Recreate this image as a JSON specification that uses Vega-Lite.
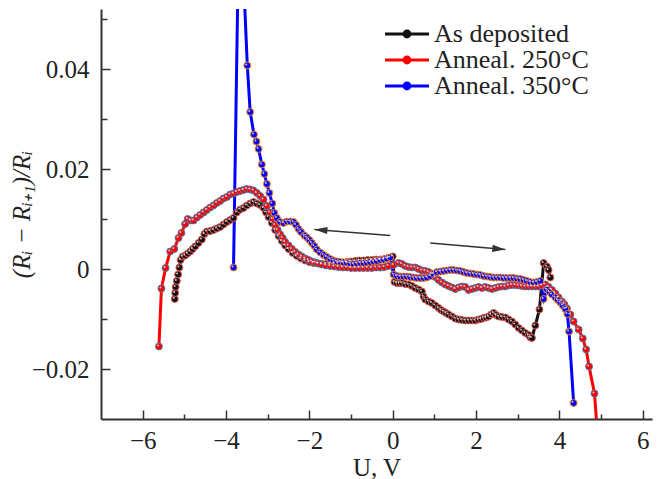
{
  "$schema": "https://vega.github.io/schema/vega-lite/v6.json",
  "width": 551,
  "height": 410,
  "autosize": "none",
  "padding": {"left": 101, "top": 9, "right": 12, "bottom": 60},
  "background": "white",
  "config": {"view": {"stroke": null}, "font": "Liberation Serif"},
  "datasets": {
    "curves": [
      {"sample":"As deposited","U":-5.23,"dR":-0.0060},
      {"sample":"As deposited","U":-5.22,"dR":-0.0048},
      {"sample":"As deposited","U":-5.21,"dR":-0.0036},
      {"sample":"As deposited","U":-5.18,"dR":-0.0024},
      {"sample":"As deposited","U":-5.15,"dR":-0.0011},
      {"sample":"As deposited","U":-5.12,"dR":0.0003},
      {"sample":"As deposited","U":-5.09,"dR":0.0018},
      {"sample":"As deposited","U":-5.04,"dR":0.0025},
      {"sample":"As deposited","U":-4.98,"dR":0.0027},
      {"sample":"As deposited","U":-4.92,"dR":0.0031},
      {"sample":"As deposited","U":-4.86,"dR":0.0035},
      {"sample":"As deposited","U":-4.80,"dR":0.0040},
      {"sample":"As deposited","U":-4.74,"dR":0.0045},
      {"sample":"As deposited","U":-4.66,"dR":0.0052},
      {"sample":"As deposited","U":-4.58,"dR":0.0059},
      {"sample":"As deposited","U":-4.52,"dR":0.0070},
      {"sample":"As deposited","U":-4.46,"dR":0.0075},
      {"sample":"As deposited","U":-4.38,"dR":0.0076},
      {"sample":"As deposited","U":-4.30,"dR":0.0078},
      {"sample":"As deposited","U":-4.22,"dR":0.0081},
      {"sample":"As deposited","U":-4.14,"dR":0.0084},
      {"sample":"As deposited","U":-4.06,"dR":0.0089},
      {"sample":"As deposited","U":-3.98,"dR":0.0094},
      {"sample":"As deposited","U":-3.90,"dR":0.0098},
      {"sample":"As deposited","U":-3.82,"dR":0.0102},
      {"sample":"As deposited","U":-3.74,"dR":0.0113},
      {"sample":"As deposited","U":-3.66,"dR":0.0119},
      {"sample":"As deposited","U":-3.58,"dR":0.0122},
      {"sample":"As deposited","U":-3.50,"dR":0.0127},
      {"sample":"As deposited","U":-3.42,"dR":0.0131},
      {"sample":"As deposited","U":-3.34,"dR":0.0134},
      {"sample":"As deposited","U":-3.26,"dR":0.0131},
      {"sample":"As deposited","U":-3.18,"dR":0.0128},
      {"sample":"As deposited","U":-3.10,"dR":0.0122},
      {"sample":"As deposited","U":-3.04,"dR":0.0113},
      {"sample":"As deposited","U":-2.98,"dR":0.0104},
      {"sample":"As deposited","U":-2.90,"dR":0.0092},
      {"sample":"As deposited","U":-2.82,"dR":0.0078},
      {"sample":"As deposited","U":-2.74,"dR":0.0066},
      {"sample":"As deposited","U":-2.66,"dR":0.0056},
      {"sample":"As deposited","U":-2.58,"dR":0.0047},
      {"sample":"As deposited","U":-2.50,"dR":0.0040},
      {"sample":"As deposited","U":-2.40,"dR":0.0032},
      {"sample":"As deposited","U":-2.30,"dR":0.0026},
      {"sample":"As deposited","U":-2.20,"dR":0.0021},
      {"sample":"As deposited","U":-2.10,"dR":0.0017},
      {"sample":"As deposited","U":-2.00,"dR":0.0014},
      {"sample":"As deposited","U":-1.90,"dR":0.0012},
      {"sample":"As deposited","U":-1.80,"dR":0.0011},
      {"sample":"As deposited","U":-1.70,"dR":0.0010},
      {"sample":"As deposited","U":-1.60,"dR":0.0010},
      {"sample":"As deposited","U":-1.50,"dR":0.0010},
      {"sample":"As deposited","U":-1.40,"dR":0.0011},
      {"sample":"As deposited","U":-1.30,"dR":0.0012},
      {"sample":"As deposited","U":-1.20,"dR":0.0013},
      {"sample":"As deposited","U":-1.10,"dR":0.0014},
      {"sample":"As deposited","U":-1.00,"dR":0.0015},
      {"sample":"As deposited","U":-0.90,"dR":0.0016},
      {"sample":"As deposited","U":-0.80,"dR":0.0017},
      {"sample":"As deposited","U":-0.70,"dR":0.0017},
      {"sample":"As deposited","U":-0.60,"dR":0.0018},
      {"sample":"As deposited","U":-0.50,"dR":0.0018},
      {"sample":"As deposited","U":-0.40,"dR":0.0019},
      {"sample":"As deposited","U":-0.30,"dR":0.0019},
      {"sample":"As deposited","U":-0.20,"dR":0.0020},
      {"sample":"As deposited","U":-0.10,"dR":0.0022},
      {"sample":"As deposited","U":0.00,"dR":0.0025},
      {"sample":"As deposited","U":0.04,"dR":-0.0026},
      {"sample":"As deposited","U":0.10,"dR":-0.0028},
      {"sample":"As deposited","U":0.16,"dR":-0.0028},
      {"sample":"As deposited","U":0.22,"dR":-0.0028},
      {"sample":"As deposited","U":0.30,"dR":-0.0030},
      {"sample":"As deposited","U":0.38,"dR":-0.0031},
      {"sample":"As deposited","U":0.46,"dR":-0.0034},
      {"sample":"As deposited","U":0.54,"dR":-0.0038},
      {"sample":"As deposited","U":0.62,"dR":-0.0041},
      {"sample":"As deposited","U":0.70,"dR":-0.0045},
      {"sample":"As deposited","U":0.74,"dR":-0.0055},
      {"sample":"As deposited","U":0.78,"dR":-0.0061},
      {"sample":"As deposited","U":0.86,"dR":-0.0065},
      {"sample":"As deposited","U":0.94,"dR":-0.0068},
      {"sample":"As deposited","U":1.02,"dR":-0.0073},
      {"sample":"As deposited","U":1.10,"dR":-0.0078},
      {"sample":"As deposited","U":1.16,"dR":-0.0082},
      {"sample":"As deposited","U":1.22,"dR":-0.0085},
      {"sample":"As deposited","U":1.28,"dR":-0.0088},
      {"sample":"As deposited","U":1.34,"dR":-0.0091},
      {"sample":"As deposited","U":1.42,"dR":-0.0095},
      {"sample":"As deposited","U":1.50,"dR":-0.0099},
      {"sample":"As deposited","U":1.58,"dR":-0.0101},
      {"sample":"As deposited","U":1.66,"dR":-0.0102},
      {"sample":"As deposited","U":1.74,"dR":-0.0103},
      {"sample":"As deposited","U":1.82,"dR":-0.0103},
      {"sample":"As deposited","U":1.90,"dR":-0.0103},
      {"sample":"As deposited","U":1.98,"dR":-0.0103},
      {"sample":"As deposited","U":2.06,"dR":-0.0101},
      {"sample":"As deposited","U":2.12,"dR":-0.0100},
      {"sample":"As deposited","U":2.18,"dR":-0.0098},
      {"sample":"As deposited","U":2.24,"dR":-0.0097},
      {"sample":"As deposited","U":2.30,"dR":-0.0095},
      {"sample":"As deposited","U":2.36,"dR":-0.0091},
      {"sample":"As deposited","U":2.42,"dR":-0.0088},
      {"sample":"As deposited","U":2.48,"dR":-0.0092},
      {"sample":"As deposited","U":2.54,"dR":-0.0095},
      {"sample":"As deposited","U":2.62,"dR":-0.0096},
      {"sample":"As deposited","U":2.70,"dR":-0.0097},
      {"sample":"As deposited","U":2.78,"dR":-0.0101},
      {"sample":"As deposited","U":2.86,"dR":-0.0105},
      {"sample":"As deposited","U":2.94,"dR":-0.0111},
      {"sample":"As deposited","U":3.02,"dR":-0.0118},
      {"sample":"As deposited","U":3.10,"dR":-0.0123},
      {"sample":"As deposited","U":3.18,"dR":-0.0128},
      {"sample":"As deposited","U":3.26,"dR":-0.0132},
      {"sample":"As deposited","U":3.30,"dR":-0.0137},
      {"sample":"As deposited","U":3.34,"dR":-0.0138},
      {"sample":"As deposited","U":3.42,"dR":-0.0113},
      {"sample":"As deposited","U":3.52,"dR":-0.0081},
      {"sample":"As deposited","U":3.62,"dR":0.0012},
      {"sample":"As deposited","U":3.70,"dR":0.0005},
      {"sample":"As deposited","U":3.74,"dR":-0.0002},
      {"sample":"As deposited","U":3.78,"dR":-0.0017},

      {"sample":"Anneal. 250°C","U":-5.61,"dR":-0.0155},
      {"sample":"Anneal. 250°C","U":-5.55,"dR":-0.0039},
      {"sample":"Anneal. 250°C","U":-5.45,"dR":0.0002},
      {"sample":"Anneal. 250°C","U":-5.34,"dR":0.0035},
      {"sample":"Anneal. 250°C","U":-5.24,"dR":0.0040},
      {"sample":"Anneal. 250°C","U":-5.14,"dR":0.0062},
      {"sample":"Anneal. 250°C","U":-5.07,"dR":0.0072},
      {"sample":"Anneal. 250°C","U":-4.98,"dR":0.0090},
      {"sample":"Anneal. 250°C","U":-4.92,"dR":0.0100},
      {"sample":"Anneal. 250°C","U":-4.85,"dR":0.0097},
      {"sample":"Anneal. 250°C","U":-4.78,"dR":0.0097},
      {"sample":"Anneal. 250°C","U":-4.70,"dR":0.0103},
      {"sample":"Anneal. 250°C","U":-4.62,"dR":0.0108},
      {"sample":"Anneal. 250°C","U":-4.54,"dR":0.0113},
      {"sample":"Anneal. 250°C","U":-4.46,"dR":0.0118},
      {"sample":"Anneal. 250°C","U":-4.38,"dR":0.0123},
      {"sample":"Anneal. 250°C","U":-4.30,"dR":0.0127},
      {"sample":"Anneal. 250°C","U":-4.22,"dR":0.0132},
      {"sample":"Anneal. 250°C","U":-4.14,"dR":0.0136},
      {"sample":"Anneal. 250°C","U":-4.06,"dR":0.0141},
      {"sample":"Anneal. 250°C","U":-3.98,"dR":0.0144},
      {"sample":"Anneal. 250°C","U":-3.90,"dR":0.0149},
      {"sample":"Anneal. 250°C","U":-3.82,"dR":0.0151},
      {"sample":"Anneal. 250°C","U":-3.74,"dR":0.0154},
      {"sample":"Anneal. 250°C","U":-3.66,"dR":0.0156},
      {"sample":"Anneal. 250°C","U":-3.58,"dR":0.0158},
      {"sample":"Anneal. 250°C","U":-3.50,"dR":0.0160},
      {"sample":"Anneal. 250°C","U":-3.42,"dR":0.0159},
      {"sample":"Anneal. 250°C","U":-3.34,"dR":0.0157},
      {"sample":"Anneal. 250°C","U":-3.26,"dR":0.0152},
      {"sample":"Anneal. 250°C","U":-3.18,"dR":0.0146},
      {"sample":"Anneal. 250°C","U":-3.10,"dR":0.0139},
      {"sample":"Anneal. 250°C","U":-3.02,"dR":0.0126},
      {"sample":"Anneal. 250°C","U":-2.95,"dR":0.0113},
      {"sample":"Anneal. 250°C","U":-2.88,"dR":0.0100},
      {"sample":"Anneal. 250°C","U":-2.82,"dR":0.0088},
      {"sample":"Anneal. 250°C","U":-2.76,"dR":0.0078},
      {"sample":"Anneal. 250°C","U":-2.70,"dR":0.0069},
      {"sample":"Anneal. 250°C","U":-2.64,"dR":0.0062},
      {"sample":"Anneal. 250°C","U":-2.58,"dR":0.0054},
      {"sample":"Anneal. 250°C","U":-2.50,"dR":0.0047},
      {"sample":"Anneal. 250°C","U":-2.42,"dR":0.0040},
      {"sample":"Anneal. 250°C","U":-2.34,"dR":0.0034},
      {"sample":"Anneal. 250°C","U":-2.26,"dR":0.0029},
      {"sample":"Anneal. 250°C","U":-2.18,"dR":0.0025},
      {"sample":"Anneal. 250°C","U":-2.10,"dR":0.0021},
      {"sample":"Anneal. 250°C","U":-2.02,"dR":0.0018},
      {"sample":"Anneal. 250°C","U":-1.94,"dR":0.0015},
      {"sample":"Anneal. 250°C","U":-1.86,"dR":0.0013},
      {"sample":"Anneal. 250°C","U":-1.78,"dR":0.0011},
      {"sample":"Anneal. 250°C","U":-1.70,"dR":0.0009},
      {"sample":"Anneal. 250°C","U":-1.60,"dR":0.0007},
      {"sample":"Anneal. 250°C","U":-1.50,"dR":0.0006},
      {"sample":"Anneal. 250°C","U":-1.40,"dR":0.0005},
      {"sample":"Anneal. 250°C","U":-1.30,"dR":0.0004},
      {"sample":"Anneal. 250°C","U":-1.20,"dR":0.0003},
      {"sample":"Anneal. 250°C","U":-1.10,"dR":0.0003},
      {"sample":"Anneal. 250°C","U":-1.00,"dR":0.0002},
      {"sample":"Anneal. 250°C","U":-0.90,"dR":0.0002},
      {"sample":"Anneal. 250°C","U":-0.80,"dR":0.0002},
      {"sample":"Anneal. 250°C","U":-0.70,"dR":0.0002},
      {"sample":"Anneal. 250°C","U":-0.60,"dR":0.0002},
      {"sample":"Anneal. 250°C","U":-0.50,"dR":0.0002},
      {"sample":"Anneal. 250°C","U":-0.40,"dR":0.0003},
      {"sample":"Anneal. 250°C","U":-0.30,"dR":0.0003},
      {"sample":"Anneal. 250°C","U":-0.20,"dR":0.0004},
      {"sample":"Anneal. 250°C","U":-0.10,"dR":0.0006},
      {"sample":"Anneal. 250°C","U":0.02,"dR":0.0008},
      {"sample":"Anneal. 250°C","U":0.14,"dR":0.0012},
      {"sample":"Anneal. 250°C","U":0.22,"dR":0.0010},
      {"sample":"Anneal. 250°C","U":0.30,"dR":0.0006},
      {"sample":"Anneal. 250°C","U":0.38,"dR":0.0004},
      {"sample":"Anneal. 250°C","U":0.46,"dR":0.0003},
      {"sample":"Anneal. 250°C","U":0.54,"dR":0.0003},
      {"sample":"Anneal. 250°C","U":0.62,"dR":0.0000},
      {"sample":"Anneal. 250°C","U":0.70,"dR":-0.0003},
      {"sample":"Anneal. 250°C","U":0.78,"dR":-0.0004},
      {"sample":"Anneal. 250°C","U":0.86,"dR":-0.0006},
      {"sample":"Anneal. 250°C","U":0.94,"dR":-0.0010},
      {"sample":"Anneal. 250°C","U":1.02,"dR":-0.0016},
      {"sample":"Anneal. 250°C","U":1.10,"dR":-0.0022},
      {"sample":"Anneal. 250°C","U":1.18,"dR":-0.0027},
      {"sample":"Anneal. 250°C","U":1.26,"dR":-0.0031},
      {"sample":"Anneal. 250°C","U":1.34,"dR":-0.0034},
      {"sample":"Anneal. 250°C","U":1.42,"dR":-0.0037},
      {"sample":"Anneal. 250°C","U":1.50,"dR":-0.0040},
      {"sample":"Anneal. 250°C","U":1.58,"dR":-0.0037},
      {"sample":"Anneal. 250°C","U":1.66,"dR":-0.0035},
      {"sample":"Anneal. 250°C","U":1.74,"dR":-0.0036},
      {"sample":"Anneal. 250°C","U":1.82,"dR":-0.0042},
      {"sample":"Anneal. 250°C","U":1.90,"dR":-0.0040},
      {"sample":"Anneal. 250°C","U":1.98,"dR":-0.0038},
      {"sample":"Anneal. 250°C","U":2.06,"dR":-0.0036},
      {"sample":"Anneal. 250°C","U":2.14,"dR":-0.0038},
      {"sample":"Anneal. 250°C","U":2.22,"dR":-0.0036},
      {"sample":"Anneal. 250°C","U":2.30,"dR":-0.0038},
      {"sample":"Anneal. 250°C","U":2.38,"dR":-0.0040},
      {"sample":"Anneal. 250°C","U":2.46,"dR":-0.0038},
      {"sample":"Anneal. 250°C","U":2.54,"dR":-0.0036},
      {"sample":"Anneal. 250°C","U":2.62,"dR":-0.0035},
      {"sample":"Anneal. 250°C","U":2.70,"dR":-0.0035},
      {"sample":"Anneal. 250°C","U":2.78,"dR":-0.0033},
      {"sample":"Anneal. 250°C","U":2.86,"dR":-0.0032},
      {"sample":"Anneal. 250°C","U":2.94,"dR":-0.0032},
      {"sample":"Anneal. 250°C","U":3.02,"dR":-0.0033},
      {"sample":"Anneal. 250°C","U":3.10,"dR":-0.0034},
      {"sample":"Anneal. 250°C","U":3.18,"dR":-0.0035},
      {"sample":"Anneal. 250°C","U":3.26,"dR":-0.0035},
      {"sample":"Anneal. 250°C","U":3.34,"dR":-0.0035},
      {"sample":"Anneal. 250°C","U":3.42,"dR":-0.0035},
      {"sample":"Anneal. 250°C","U":3.50,"dR":-0.0035},
      {"sample":"Anneal. 250°C","U":3.58,"dR":-0.0033},
      {"sample":"Anneal. 250°C","U":3.66,"dR":-0.0031},
      {"sample":"Anneal. 250°C","U":3.74,"dR":-0.0036},
      {"sample":"Anneal. 250°C","U":3.82,"dR":-0.0042},
      {"sample":"Anneal. 250°C","U":3.90,"dR":-0.0049},
      {"sample":"Anneal. 250°C","U":3.98,"dR":-0.0057},
      {"sample":"Anneal. 250°C","U":4.06,"dR":-0.0065},
      {"sample":"Anneal. 250°C","U":4.12,"dR":-0.0071},
      {"sample":"Anneal. 250°C","U":4.18,"dR":-0.0079},
      {"sample":"Anneal. 250°C","U":4.26,"dR":-0.0091},
      {"sample":"Anneal. 250°C","U":4.34,"dR":-0.0105},
      {"sample":"Anneal. 250°C","U":4.46,"dR":-0.0121},
      {"sample":"Anneal. 250°C","U":4.56,"dR":-0.0139},
      {"sample":"Anneal. 250°C","U":4.64,"dR":-0.0161},
      {"sample":"Anneal. 250°C","U":4.71,"dR":-0.0195},
      {"sample":"Anneal. 250°C","U":4.84,"dR":-0.0249},
      {"sample":"Anneal. 250°C","U":4.93,"dR":-0.0350},

      {"sample":"Anneal. 350°C","U":-3.82,"dR":0.0003},
      {"sample":"Anneal. 350°C","U":-3.70,"dR":0.065},
      {"sample":"Anneal. 350°C","U":-3.60,"dR":0.062},
      {"sample":"Anneal. 350°C","U":-3.49,"dR":0.0407},
      {"sample":"Anneal. 350°C","U":-3.42,"dR":0.0314},
      {"sample":"Anneal. 350°C","U":-3.33,"dR":0.0269},
      {"sample":"Anneal. 350°C","U":-3.27,"dR":0.0255},
      {"sample":"Anneal. 350°C","U":-3.22,"dR":0.0240},
      {"sample":"Anneal. 350°C","U":-3.14,"dR":0.0209},
      {"sample":"Anneal. 350°C","U":-3.08,"dR":0.0190},
      {"sample":"Anneal. 350°C","U":-3.02,"dR":0.0170},
      {"sample":"Anneal. 350°C","U":-2.96,"dR":0.0152},
      {"sample":"Anneal. 350°C","U":-2.89,"dR":0.0131},
      {"sample":"Anneal. 350°C","U":-2.84,"dR":0.0112},
      {"sample":"Anneal. 350°C","U":-2.78,"dR":0.0102},
      {"sample":"Anneal. 350°C","U":-2.70,"dR":0.0094},
      {"sample":"Anneal. 350°C","U":-2.62,"dR":0.0092},
      {"sample":"Anneal. 350°C","U":-2.54,"dR":0.0095},
      {"sample":"Anneal. 350°C","U":-2.46,"dR":0.0095},
      {"sample":"Anneal. 350°C","U":-2.38,"dR":0.0094},
      {"sample":"Anneal. 350°C","U":-2.32,"dR":0.0088},
      {"sample":"Anneal. 350°C","U":-2.26,"dR":0.0080},
      {"sample":"Anneal. 350°C","U":-2.20,"dR":0.0074},
      {"sample":"Anneal. 350°C","U":-2.12,"dR":0.0067},
      {"sample":"Anneal. 350°C","U":-2.06,"dR":0.0063},
      {"sample":"Anneal. 350°C","U":-2.00,"dR":0.0058},
      {"sample":"Anneal. 350°C","U":-1.94,"dR":0.0052},
      {"sample":"Anneal. 350°C","U":-1.88,"dR":0.0046},
      {"sample":"Anneal. 350°C","U":-1.82,"dR":0.0039},
      {"sample":"Anneal. 350°C","U":-1.74,"dR":0.0033},
      {"sample":"Anneal. 350°C","U":-1.66,"dR":0.0028},
      {"sample":"Anneal. 350°C","U":-1.58,"dR":0.0024},
      {"sample":"Anneal. 350°C","U":-1.50,"dR":0.0020},
      {"sample":"Anneal. 350°C","U":-1.42,"dR":0.0017},
      {"sample":"Anneal. 350°C","U":-1.34,"dR":0.0015},
      {"sample":"Anneal. 350°C","U":-1.26,"dR":0.0014},
      {"sample":"Anneal. 350°C","U":-1.18,"dR":0.0013},
      {"sample":"Anneal. 350°C","U":-1.10,"dR":0.0012},
      {"sample":"Anneal. 350°C","U":-1.02,"dR":0.0011},
      {"sample":"Anneal. 350°C","U":-0.94,"dR":0.0010},
      {"sample":"Anneal. 350°C","U":-0.86,"dR":0.0011},
      {"sample":"Anneal. 350°C","U":-0.78,"dR":0.0012},
      {"sample":"Anneal. 350°C","U":-0.70,"dR":0.0012},
      {"sample":"Anneal. 350°C","U":-0.62,"dR":0.0013},
      {"sample":"Anneal. 350°C","U":-0.54,"dR":0.0014},
      {"sample":"Anneal. 350°C","U":-0.46,"dR":0.0015},
      {"sample":"Anneal. 350°C","U":-0.38,"dR":0.0016},
      {"sample":"Anneal. 350°C","U":-0.30,"dR":0.0018},
      {"sample":"Anneal. 350°C","U":-0.22,"dR":0.0019},
      {"sample":"Anneal. 350°C","U":-0.14,"dR":0.0021},
      {"sample":"Anneal. 350°C","U":-0.06,"dR":0.0023},
      {"sample":"Anneal. 350°C","U":0.02,"dR":-0.0011},
      {"sample":"Anneal. 350°C","U":0.10,"dR":-0.0014},
      {"sample":"Anneal. 350°C","U":0.18,"dR":-0.0015},
      {"sample":"Anneal. 350°C","U":0.26,"dR":-0.0015},
      {"sample":"Anneal. 350°C","U":0.34,"dR":-0.0015},
      {"sample":"Anneal. 350°C","U":0.42,"dR":-0.0016},
      {"sample":"Anneal. 350°C","U":0.50,"dR":-0.0017},
      {"sample":"Anneal. 350°C","U":0.58,"dR":-0.0018},
      {"sample":"Anneal. 350°C","U":0.66,"dR":-0.0018},
      {"sample":"Anneal. 350°C","U":0.74,"dR":-0.0018},
      {"sample":"Anneal. 350°C","U":0.82,"dR":-0.0017},
      {"sample":"Anneal. 350°C","U":0.90,"dR":-0.0014},
      {"sample":"Anneal. 350°C","U":0.98,"dR":-0.0010},
      {"sample":"Anneal. 350°C","U":1.06,"dR":-0.0006},
      {"sample":"Anneal. 350°C","U":1.14,"dR":-0.0005},
      {"sample":"Anneal. 350°C","U":1.22,"dR":-0.0004},
      {"sample":"Anneal. 350°C","U":1.30,"dR":-0.0003},
      {"sample":"Anneal. 350°C","U":1.38,"dR":-0.0002},
      {"sample":"Anneal. 350°C","U":1.46,"dR":-0.0002},
      {"sample":"Anneal. 350°C","U":1.54,"dR":-0.0003},
      {"sample":"Anneal. 350°C","U":1.62,"dR":-0.0004},
      {"sample":"Anneal. 350°C","U":1.70,"dR":-0.0006},
      {"sample":"Anneal. 350°C","U":1.78,"dR":-0.0008},
      {"sample":"Anneal. 350°C","U":1.86,"dR":-0.0009},
      {"sample":"Anneal. 350°C","U":1.94,"dR":-0.0010},
      {"sample":"Anneal. 350°C","U":2.02,"dR":-0.0011},
      {"sample":"Anneal. 350°C","U":2.10,"dR":-0.0012},
      {"sample":"Anneal. 350°C","U":2.18,"dR":-0.0014},
      {"sample":"Anneal. 350°C","U":2.26,"dR":-0.0015},
      {"sample":"Anneal. 350°C","U":2.34,"dR":-0.0016},
      {"sample":"Anneal. 350°C","U":2.42,"dR":-0.0017},
      {"sample":"Anneal. 350°C","U":2.50,"dR":-0.0017},
      {"sample":"Anneal. 350°C","U":2.58,"dR":-0.0017},
      {"sample":"Anneal. 350°C","U":2.66,"dR":-0.0018},
      {"sample":"Anneal. 350°C","U":2.74,"dR":-0.0018},
      {"sample":"Anneal. 350°C","U":2.82,"dR":-0.0018},
      {"sample":"Anneal. 350°C","U":2.90,"dR":-0.0018},
      {"sample":"Anneal. 350°C","U":2.98,"dR":-0.0019},
      {"sample":"Anneal. 350°C","U":3.06,"dR":-0.0020},
      {"sample":"Anneal. 350°C","U":3.14,"dR":-0.0022},
      {"sample":"Anneal. 350°C","U":3.22,"dR":-0.0024},
      {"sample":"Anneal. 350°C","U":3.30,"dR":-0.0026},
      {"sample":"Anneal. 350°C","U":3.38,"dR":-0.0027},
      {"sample":"Anneal. 350°C","U":3.46,"dR":-0.0026},
      {"sample":"Anneal. 350°C","U":3.54,"dR":-0.0024},
      {"sample":"Anneal. 350°C","U":3.62,"dR":-0.0060},
      {"sample":"Anneal. 350°C","U":3.70,"dR":-0.0041},
      {"sample":"Anneal. 350°C","U":3.76,"dR":-0.0046},
      {"sample":"Anneal. 350°C","U":3.82,"dR":-0.0051},
      {"sample":"Anneal. 350°C","U":3.90,"dR":-0.0057},
      {"sample":"Anneal. 350°C","U":3.96,"dR":-0.0062},
      {"sample":"Anneal. 350°C","U":4.02,"dR":-0.0067},
      {"sample":"Anneal. 350°C","U":4.08,"dR":-0.0073},
      {"sample":"Anneal. 350°C","U":4.14,"dR":-0.0080},
      {"sample":"Anneal. 350°C","U":4.19,"dR":-0.0090},
      {"sample":"Anneal. 350°C","U":4.23,"dR":-0.0125},
      {"sample":"Anneal. 350°C","U":4.34,"dR":-0.0268}
    ],
    "arrows": [
      {"dir":"left","U":-0.06,"dR":0.0067,"U2":-1.88,"dR2":0.0079},
      {"dir":"right","U":0.90,"dR":0.0052,"U2":2.70,"dR2":0.0039}
    ]
  },
  "layer": [
    {
      "data": {"name": "curves"},
      "mark": {"type": "line", "strokeWidth": 3, "clip": true},
      "encoding": {
        "x": {"field": "U", "type": "quantitative",
          "scale": {"domain": [-7, 6.22], "nice": false, "zero": false},
          "axis": {"values": [-6, -4, -2, 0, 2, 4, 6], "tickSize": -9, "tickWidth": 1.5, "tickColor": "#333",
            "domainColor": "#333", "domainWidth": 2, "grid": false,
            "labelFont": "Liberation Serif", "labelFontSize": 25, "labelColor": "#222", "labelPadding": 18,
            "title": "U, V", "titleFont": "Liberation Serif", "titleFontSize": 25, "titleFontWeight": "normal",
            "titleColor": "#222", "titlePadding": 2}},
        "y": {"field": "dR", "type": "quantitative",
          "scale": {"domain": [-0.03, 0.052], "nice": false, "zero": false},
          "axis": {"values": [-0.02, 0, 0.02, 0.04], "tickSize": -9, "tickWidth": 1.5, "tickColor": "#333",
            "domainColor": "#333", "domainWidth": 2, "grid": false,
            "labelExpr": "datum.value == 0 ? '0' : format(datum.value, '.2f')",
            "labelFont": "Liberation Serif", "labelFontSize": 25, "labelColor": "#222", "labelPadding": 21,
            "title": "(Rᵢ − Rᵢ₊₁)/Rᵢ", "titleFont": "Liberation Serif", "titleFontSize": 25, "titleFontWeight": "normal",
            "titleFontStyle": "italic", "titleColor": "#222", "titlePadding": -3}},
        "color": {"field": "sample", "type": "nominal",
          "scale": {"domain": ["As deposited", "Anneal. 250°C", "Anneal. 350°C"], "range": ["#111111", "#ff0000", "#0000ff"]},
          "legend": {"title": null, "orient": "none", "legendX": 281, "legendY": 12, "padding": 0,
            "labelFont": "Liberation Serif", "labelFontSize": 26, "labelColor": "#222", "labelOffset": 26,
            "symbolType": "M-1,-0.15L3.4,-0.15L3.4,0.15L-1,0.15Z M1.64,0A0.44,0.44 0 1,1 0.76,0A0.44,0.44 0 1,1 1.64,0Z",
            "symbolSize": 400, "symbolStrokeWidth": 0, "rowPadding": 0,
            "encode": {"symbols": {"update": {"fill": {"scale": "color", "field": "value"}, "stroke": {"value": "transparent"}, "opacity": {"value": 1}}}}}}
      }
    },
    {
      "data": {"name": "curves"},
      "mark": {"type": "point", "filled": true, "size": 48, "strokeWidth": 1, "opacity": 1, "clip": true},
      "encoding": {
        "x": {"field": "U", "type": "quantitative", "axis": null},
        "y": {"field": "dR", "type": "quantitative", "axis": null},
        "color": {"field": "sample", "type": "nominal"},
        "stroke": {"field": "sample", "type": "nominal", "legend": null}
      }
    },
    {
      "data": {"name": "curves"},
      "mark": {"type": "point", "filled": true, "size": 4, "color": "white", "opacity": 0.75, "xOffset": -1, "yOffset": -1, "clip": true},
      "encoding": {
        "x": {"field": "U", "type": "quantitative",
          "axis": {"values": [-5, -3, -1, 1, 3, 5], "tickSize": -5, "tickWidth": 1.5, "tickColor": "#333",
            "labels": false, "domain": false, "grid": false, "title": null, "orient": "bottom"}},
        "y": {"field": "dR", "type": "quantitative",
          "axis": {"values": [-0.01, 0.01, 0.03, 0.05], "tickSize": -6, "tickWidth": 1.5, "tickColor": "#333",
            "labels": false, "domain": false, "grid": false, "title": null, "orient": "left"}}
      }
    },
    {
      "data": {"name": "arrows"},
      "mark": {"type": "rule", "color": "#333", "strokeWidth": 1.5},
      "encoding": {
        "x": {"field": "U", "type": "quantitative", "axis": null},
        "y": {"field": "dR", "type": "quantitative", "axis": null},
        "x2": {"field": "U2"},
        "y2": {"field": "dR2"}
      }
    },
    {
      "data": {"name": "arrows"},
      "transform": [{"filter": "datum.dir == 'left'"}],
      "mark": {"type": "point", "shape": "M0,0L2,-0.55L2,0.55Z", "size": 169, "filled": true, "color": "#333", "opacity": 1, "angle": 4.5},
      "encoding": {
        "x": {"field": "U2", "type": "quantitative", "axis": null},
        "y": {"field": "dR2", "type": "quantitative", "axis": null}
      }
    },
    {
      "data": {"name": "arrows"},
      "transform": [{"filter": "datum.dir == 'right'"}],
      "mark": {"type": "point", "shape": "M0,0L2,-0.55L2,0.55Z", "size": 169, "filled": true, "color": "#333", "opacity": 1, "angle": 185},
      "encoding": {
        "x": {"field": "U2", "type": "quantitative", "axis": null},
        "y": {"field": "dR2", "type": "quantitative", "axis": null}
      }
    }
  ],
  "resolve": {"axis": {"x": "independent", "y": "independent"}}
}
